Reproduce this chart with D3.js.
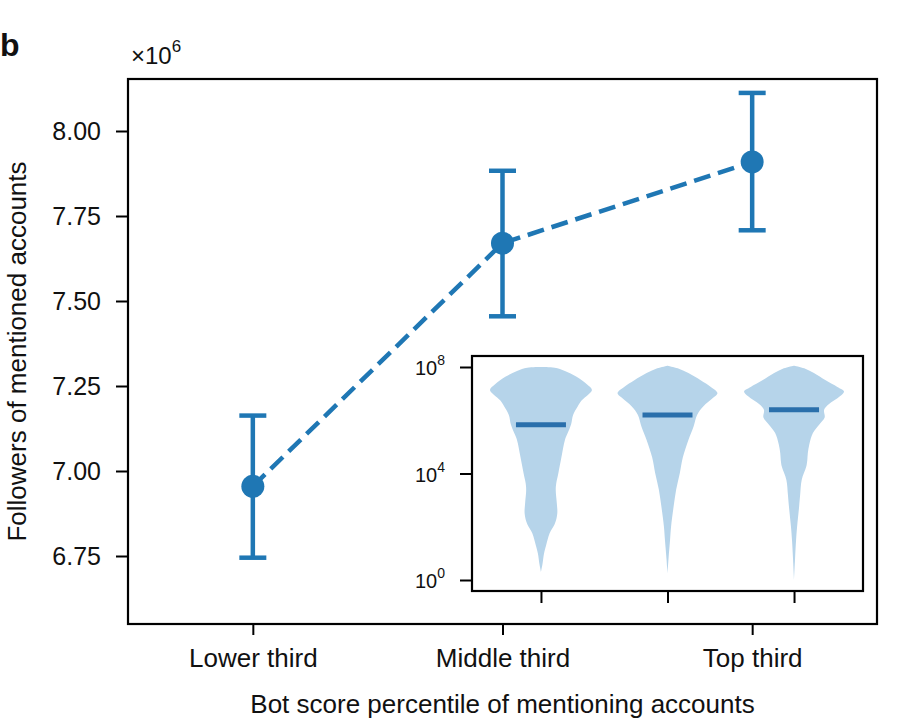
<!DOCTYPE html>
<meta charset="utf-8">
<style>
body { margin: 0; background: #fff; }
text { font-family: "Liberation Sans", Arial, sans-serif; fill: #111; }
</style>
<svg id="chart" width="900" height="719"></svg>
<script src="https://d3js.org/d3.v7.min.js"></script>
<script>

// main panel: mean followers (x1e6) with error bars
var categories = ["Lower third", "Middle third", "Top third"];
var means = [6.955, 7.670, 7.909];
var errLow = [6.745, 7.455, 7.708];
var errHigh = [7.163, 7.883, 8.112];
var yTicks = [6.75, 7.00, 7.25, 7.50, 7.75, 8.00];

// inset: violin profiles, [log10 followers, relative width]
var violin1 = [[8.0, 0.0], [7.97, 0.27], [7.85, 0.47], [7.64, 0.69], [7.35, 0.9], [7.14, 1.0], [6.95, 0.92],
  [6.75, 0.8], [6.52, 0.72], [6.2, 0.63], [5.84, 0.59], [5.5, 0.52], [5.26, 0.47], [4.6, 0.4], [4.0, 0.34],
  [3.63, 0.3], [3.38, 0.29], [2.9, 0.31], [2.5, 0.32], [2.1, 0.27], [1.76, 0.17], [1.3, 0.1], [1.0, 0.06],
  [0.6, 0.03], [0.3, 0.0]];
var violin2 = [[8.05, 0.0], [7.95, 0.2], [7.77, 0.41], [7.5, 0.65], [7.25, 0.85], [7.02, 0.98], [6.85, 0.9],
  [6.52, 0.7], [6.2, 0.58], [5.76, 0.51], [5.26, 0.41], [4.6, 0.3], [4.0, 0.24], [3.4, 0.17], [2.76, 0.12],
  [2.0, 0.07], [1.5, 0.05], [0.8, 0.02], [0.25, 0.0]];
var violin3 = [[8.05, 0.0], [7.95, 0.2], [7.77, 0.39], [7.5, 0.62], [7.25, 0.85], [7.08, 0.98], [6.9, 0.9],
  [6.6, 0.68], [6.39, 0.59], [6.1, 0.6], [5.85, 0.5], [5.52, 0.37], [5.1, 0.3], [4.76, 0.27], [4.5, 0.26],
  [4.26, 0.24], [3.76, 0.15], [3.2, 0.12], [2.76, 0.1], [2.0, 0.06], [1.5, 0.04], [0.8, 0.02], [0.0, 0.0]];
var violins = [violin1, violin2, violin3];
var medians = [5.83, 6.20, 6.39];
var insetTicks = [0, 4, 8];

var blue = "#1f77b4";
var font = "Liberation Sans, Arial, sans-serif";
var svg = d3.select("#chart");

// main axes box
var mLeft = 128, mRight = 877, mTop = 79, mBottom = 624;

var x = d3.scaleLinear().domain([-0.5, 2.5]).range([mLeft, mRight]);
var y = d3.scaleLinear().domain([6.5, 8.0]).range([641, 131]);

svg.append("text").attr("x", 0).attr("y", 56)
    .attr("font-size", 32).attr("font-weight", "bold").text("b");

var mult = svg.append("text").attr("x", 131).attr("y", 64).attr("font-size", 24);
mult.append("tspan").text("×10");
mult.append("tspan").attr("dy", -12).attr("font-size", 17).text("6");

// y axis
var yAxis = svg.append("g")
    .attr("transform", "translate(" + mLeft + ",0)")
    .call(d3.axisLeft(y).tickValues(yTicks).tickFormat(d3.format(".2f")).tickSize(12).tickPadding(15));
yAxis.select(".domain").remove();
yAxis.selectAll(".tick line").attr("stroke", "#000").attr("stroke-width", 2);
yAxis.selectAll(".tick text").attr("font-size", 25).attr("fill", "#111").attr("font-family", font);

// x axis
var xAxis = svg.append("g")
    .attr("transform", "translate(0," + mBottom + ")")
    .call(d3.axisBottom(x).tickValues([0, 1, 2]).tickFormat(function(d) { return categories[d]; })
      .tickSize(11).tickPadding(7));
xAxis.select(".domain").remove();
xAxis.selectAll(".tick line").attr("stroke", "#000").attr("stroke-width", 2);
xAxis.selectAll(".tick text").attr("font-size", 26).attr("fill", "#111").attr("font-family", font)
    .attr("dy", null).attr("y", 43);

svg.append("rect").attr("x", mLeft).attr("y", mTop)
    .attr("width", mRight - mLeft).attr("height", mBottom - mTop)
    .attr("fill", "none").attr("stroke", "#000").attr("stroke-width", 2.2);

svg.append("text").attr("x", (mLeft + mRight) / 2).attr("y", 713)
    .attr("text-anchor", "middle").attr("font-size", 26)
    .text("Bot score percentile of mentioning accounts");

svg.append("text")
    .attr("transform", "translate(26," + ((mTop + mBottom) / 2) + ") rotate(-90)")
    .attr("text-anchor", "middle").attr("font-size", 26)
    .text("Followers of mentioned accounts");

// dashed line
var line = d3.line().x(function(d, i) { return x(i); }).y(function(d) { return y(d); });
svg.append("path").datum(means)
    .attr("d", line)
    .attr("fill", "none").attr("stroke", blue).attr("stroke-width", 4.5)
    .attr("stroke-dasharray", "17,8");

// error bars
var eb = svg.append("g").attr("stroke", blue).attr("stroke-width", 4.5);
means.forEach(function(m, i) {
  eb.append("line").attr("x1", x(i)).attr("x2", x(i)).attr("y1", y(errLow[i])).attr("y2", y(errHigh[i]));
  eb.append("line").attr("x1", x(i) - 13.5).attr("x2", x(i) + 13.5).attr("y1", y(errLow[i])).attr("y2", y(errLow[i]));
  eb.append("line").attr("x1", x(i) - 13.5).attr("x2", x(i) + 13.5).attr("y1", y(errHigh[i])).attr("y2", y(errHigh[i]));
});

svg.append("g").selectAll("circle")
  .data(means)
  .enter().append("circle")
    .attr("cx", function(d, i) { return x(i); })
    .attr("cy", function(d) { return y(d); })
    .attr("r", 11.5)
    .attr("fill", blue);

// inset
var iLeft = 472, iRight = 863, iTop = 356, iBottom = 591;
var xi = d3.scaleLinear().domain([-0.545, 2.545]).range([iLeft, iRight]);
var yi = d3.scaleLinear().domain([0, 8]).range([580, 367]);
var halfW = (xi(1) - xi(0)) * 0.403;

svg.append("rect").attr("x", iLeft).attr("y", iTop)
    .attr("width", iRight - iLeft).attr("height", iBottom - iTop)
    .attr("fill", "#fff").attr("stroke", "none");

violins.forEach(function(v, i) {
  var area = d3.area()
      .curve(d3.curveCatmullRom)
      .y(function(d) { return yi(d[0]); })
      .x0(function(d) { return xi(i) - d[1] * halfW; })
      .x1(function(d) { return xi(i) + d[1] * halfW; });
  svg.append("path").datum(v).attr("d", area).attr("fill", "#b6d4ea");
});

svg.append("g").selectAll("line")
  .data(medians)
  .enter().append("line")
    .attr("x1", function(d, i) { return xi(i) - 25; })
    .attr("x2", function(d, i) { return xi(i) + 25; })
    .attr("y1", function(d) { return yi(d); })
    .attr("y2", function(d) { return yi(d); })
    .attr("stroke", "#2a6fab").attr("stroke-width", 5);

var iy = svg.append("g")
    .attr("transform", "translate(" + iLeft + ",0)")
    .call(d3.axisLeft(yi).tickValues(insetTicks).tickFormat("").tickSize(12));
iy.select(".domain").remove();
iy.selectAll(".tick line").attr("stroke", "#000").attr("stroke-width", 2);

insetTicks.forEach(function(t) {
  var lab = svg.append("text").attr("x", 445).attr("y", yi(t) + 8)
      .attr("text-anchor", "end").attr("font-size", 20);
  lab.append("tspan").text("10");
  lab.append("tspan").attr("dy", -10).attr("font-size", 14).text(t);
});

var ix = svg.append("g")
    .attr("transform", "translate(0," + iBottom + ")")
    .call(d3.axisBottom(xi).tickValues([0, 1, 2]).tickFormat("").tickSize(12));
ix.select(".domain").remove();
ix.selectAll(".tick line").attr("stroke", "#000").attr("stroke-width", 2);

svg.append("rect").attr("x", iLeft).attr("y", iTop)
    .attr("width", iRight - iLeft).attr("height", iBottom - iTop)
    .attr("fill", "none").attr("stroke", "#000").attr("stroke-width", 2.2);

</script>
